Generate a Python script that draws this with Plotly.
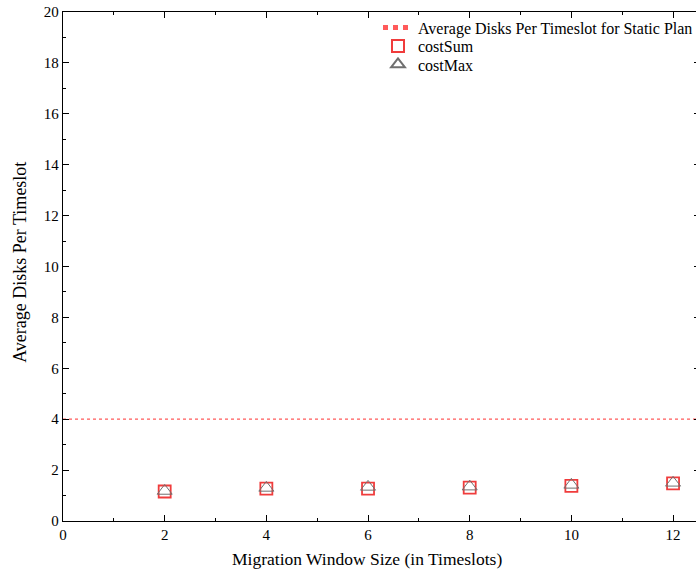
import plotly.graph_objects as go

window_sizes = [2, 4, 6, 8, 10, 12]
cost_sum = [1.16, 1.27, 1.27, 1.31, 1.38, 1.48]
cost_max = [1.18, 1.30, 1.34, 1.35, 1.42, 1.50]
static_plan = 4
static_x = [0, 13]

FONT = "Liberation Serif, Times New Roman, serif"

fig = go.Figure()
fig.add_trace(go.Scatter(
    x=static_x, y=[static_plan] * len(static_x), mode="lines",
    name="Average Disks Per Timeslot for Static Plan",
    line=dict(color="#ff5a5a", dash="dot", width=1.3), legend="legend",
))
fig.add_trace(go.Scatter(
    x=window_sizes, y=cost_sum, mode="markers", name="costSum",
    marker=dict(symbol="square-open", size=12, color="#f03c3c", line=dict(width=1.8)),
    legend="legend2",
))
fig.add_trace(go.Scatter(
    x=window_sizes, y=cost_max, mode="markers", name="costMax",
    marker=dict(symbol="triangle-up-open", size=13, color="#707070", line=dict(width=1)),
    legend="legend3",
))

axis_common = dict(
    showgrid=False, zeroline=False, showline=True, linecolor="black", linewidth=1.3,
    mirror="ticks", ticks="inside", ticklen=6, tickcolor="black", tickwidth=1,
    tickfont=dict(family=FONT, size=15, color="black"),
)
fig.update_xaxes(range=[0, 12.53], dtick=2, tick0=0,
                 minor=dict(ticks="inside", ticklen=3, dtick=1, tickcolor="black"),
                 **axis_common)
fig.update_yaxes(range=[0, 20], dtick=2, tick0=0,
                 minor=dict(ticks="inside", ticklen=3, dtick=1, tickcolor="black"),
                 **axis_common)

fig.add_annotation(text="Migration Window Size (in Timeslots)", xref="paper", yref="paper",
                   x=(367 - 63) / 637, y=-(547 - 520.7) / 508, xanchor="center", yanchor="top",
                   showarrow=False, font=dict(family=FONT, size=17.5, color="black"))
fig.add_annotation(text="Average Disks Per Timeslot", xref="paper", yref="paper",
                   x=-(63 - 20) / 637, y=(520.7 - 263) / 508, xanchor="center", yanchor="middle",
                   textangle=-90, showarrow=False,
                   font=dict(family=FONT, size=18, color="black"))

def leg(dy):
    return dict(x=(378 - 63) / 637, y=1.0 - dy / 508, xanchor="left", yanchor="top",
                bgcolor="rgba(0,0,0,0)", font=dict(family=FONT, size=16, color="black"),
                itemsizing="constant")

fig.update_layout(
    width=700, height=571,
    margin=dict(l=63, r=0, t=12, b=50),
    plot_bgcolor="white", paper_bgcolor="white",
    font=dict(family=FONT, color="black"),
    legend=leg(-1.5), legend2=leg(17), legend3=leg(35.3),
    showlegend=True,
)

fig.write_html("out.html")
